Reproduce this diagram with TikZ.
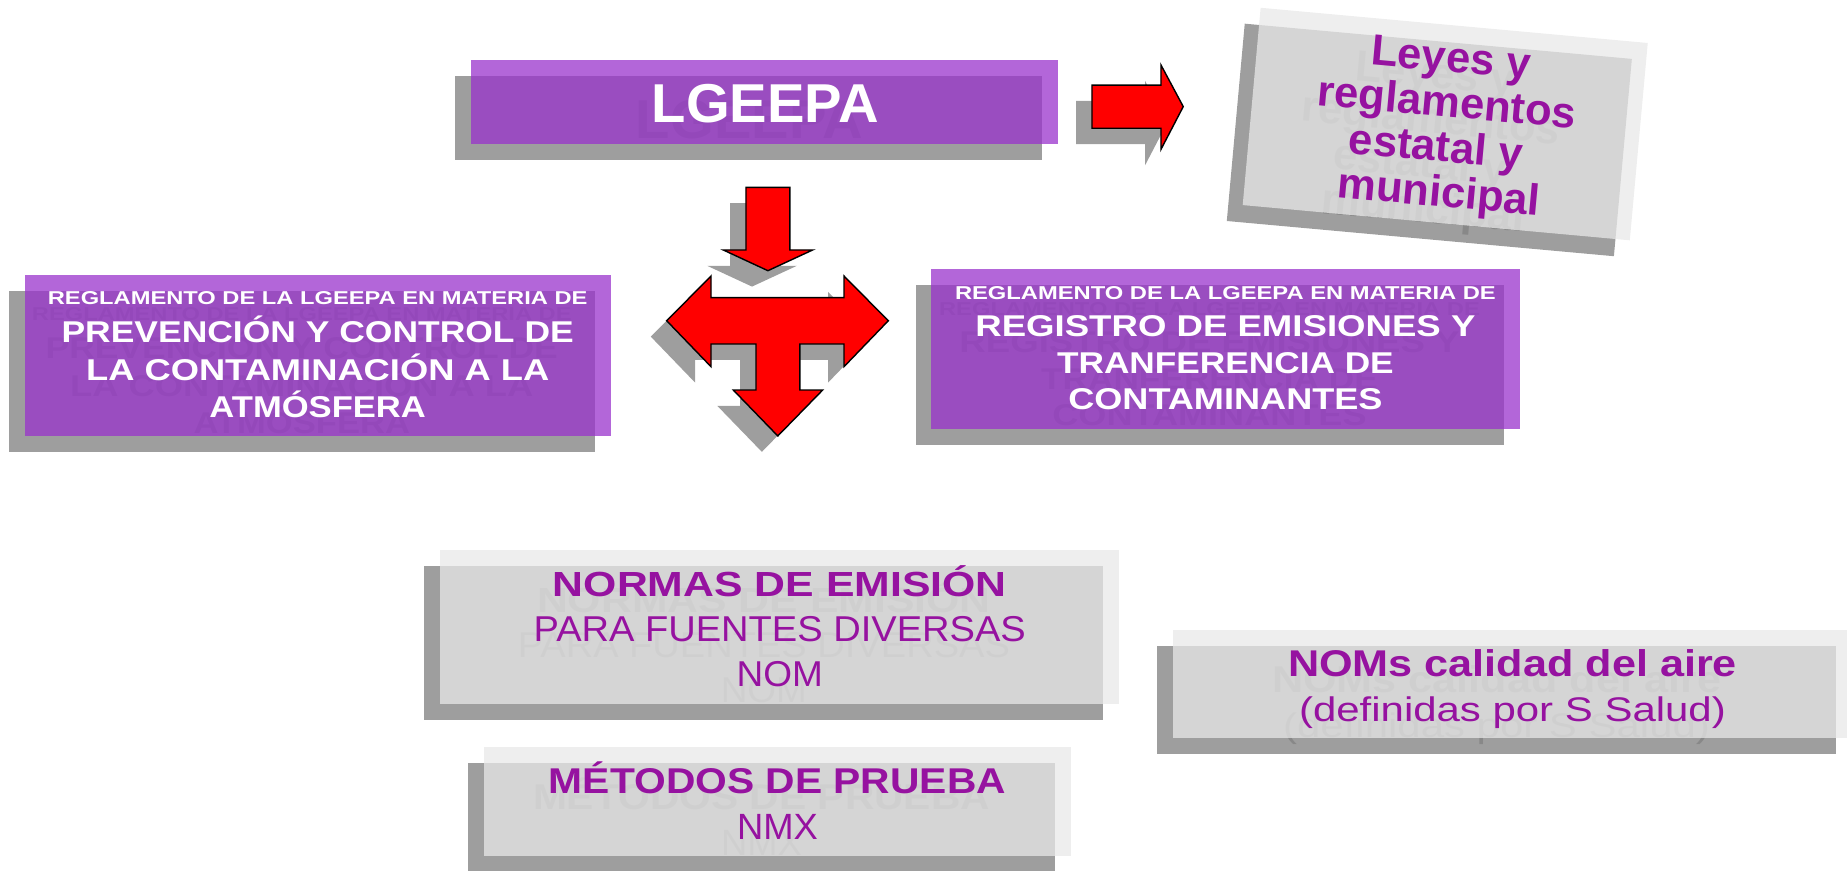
\documentclass[tikz,border=0pt]{standalone}
\usepackage{fontspec}
\setmainfont{Liberation Sans}
\usepackage{graphicx}
\definecolor{pur}{RGB}{153,51,204}
\definecolor{shd}{RGB}{158,158,158}
\definecolor{lgr}{RGB}{232,232,232}
\definecolor{ptx}{RGB}{150,18,160}
\definecolor{ghc}{RGB}{136,136,136}
\newcommand\fitw[2]{\resizebox{#1pt}{\height}{#2}}
\newcommand\fz[1]{\fontsize{#1}{#1}\selectfont}
\tikzset{
  boxbase/.style={rectangle, draw=none, inner sep=0pt, outer sep=0pt},
  shadowbox/.style={boxbase, fill=shd},
  purplebox/.style={boxbase, fill=pur, fill opacity=0.75},
  greybox/.style={boxbase, fill=lgr, fill opacity=0.75},
  tx/.style={inner sep=0pt, outer sep=0pt, anchor=base},
  whitetext/.style={text=white},
  purpletext/.style={text=ptx},
  shadowshape/.style={fill=shd, draw=none},
  redarrow/.style={fill=red, draw=black, line width=1.2pt, line join=miter},
}
\newcommand\arrowRight[1]{\path[#1] (927,72.2) -- (985.6,72.2) -- (985.6,55.2) -- (1004.5,90.5) -- (985.6,126.8) -- (985.6,108.9) -- (927,108.9) -- cycle;}
\newcommand\arrowDown[1]{\path[#1] (633.3,159) -- (670.6,159) -- (670.6,212.2) -- (689.9,212.2) -- (651.9,229.8) -- (614,212.2) -- (633.3,212.2) -- cycle;}
\newcommand\arrowTriple[1]{\path[#1] (566,272.3) -- (603.6,234.3) -- (603.6,252.7) -- (716.5,252.7) -- (716.5,234.3) -- (754.1,272.3) -- (716.5,311.3) -- (716.5,292) -- (679.1,292) -- (679.1,331.1) -- (698.4,331.1) -- (660.3,370.1) -- (622.5,331.1) -- (641.8,331.1) -- (641.8,292) -- (603.6,292) -- (603.6,311.3) -- cycle;}
\newcommand\alltexts{%
  \node[tx,whitetext] (lg-t) at (649.7,104.1) {\fitw{192.7}{\fz{46.5}\bfseries LGEEPA}};
  % left purple box
  \node[tx,whitetext] (pc-1) at (269.7,258.9) {\fitw{458.1}{\fz{15.8}\bfseries REGLAMENTO DE LA LGEEPA EN MATERIA DE}};
  \node[tx,whitetext] (pc-2) at (269.7,290.9) {\fitw{434.8}{\fz{25.5}\bfseries PREVENCIÓN Y CONTROL DE}};
  \node[tx,whitetext] (pc-3) at (269.7,323.0) {\fitw{393.2}{\fz{25.5}\bfseries LA CONTAMINACIÓN A LA}};
  \node[tx,whitetext] (pc-4) at (269.7,354.5) {\fitw{183.7}{\fz{25.5}\bfseries ATMÓSFERA}};
  % right purple box
  \node[tx,whitetext] (re-1) at (1040.3,254.1) {\fitw{459.1}{\fz{15.8}\bfseries REGLAMENTO DE LA LGEEPA EN MATERIA DE}};
  \node[tx,whitetext] (re-2) at (1040.3,285.8) {\fitw{424.5}{\fz{25.5}\bfseries REGISTRO DE EMISIONES Y}};
  \node[tx,whitetext] (re-3) at (1040.3,316.9) {\fitw{285.9}{\fz{25.5}\bfseries TRANFERENCIA DE}};
  \node[tx,whitetext] (re-4) at (1040.3,348.0) {\fitw{266.8}{\fz{25.5}\bfseries CONTAMINANTES}};
  % normas
  \node[tx,purpletext] (no-1) at (662,506.5) {\fitw{385.2}{\fz{29.6}\bfseries NORMAS DE EMISIÓN}};
  \node[tx,purpletext] (no-2) at (662,544.7) {\fitw{417.8}{\fz{30.5}PARA FUENTES DIVERSAS}};
  \node[tx,purpletext] (no-3) at (662,582.9) {\fitw{73.2}{\fz{30.5}NOM}};
  % metodos
  \node[tx,purpletext] (me-1) at (660,674.0) {\fitw{388}{\fz{30.4}\bfseries MÉTODOS DE PRUEBA}};
  \node[tx,purpletext] (me-2) at (660,712.5) {\fitw{68.6}{\fz{31}NMX}};
  % NOMs calidad
  \node[tx,purpletext] (ca-1) at (1284,574.4) {\fitw{381.1}{\fz{31.6}\bfseries NOMs calidad del aire}};
  \node[tx,purpletext] (ca-2) at (1284,612.6) {\fitw{362.3}{\fz{29}(definidas por S Salud)}};
  % leyes (rotated)
  \begin{scope}[shift={(1226.9,105.3)}, rotate=-5.2, every node/.append style={transform shape}]
    \node[tx,purpletext] (ly-1) at (0,-44.4) {\fz{37}\bfseries Leyes y};
    \node[tx,purpletext] (ly-2) at (0,-6.2) {\fz{37}\bfseries reglamentos};
    \node[tx,purpletext] (ly-3) at (-6,32) {\fz{37}\bfseries estatal y};
    \node[tx,purpletext] (ly-4) at (0,70.2) {\fz{37}\bfseries municipal};
  \end{scope}
}
\begin{document}
\begin{tikzpicture}[x=1pt,y=-1pt]
\useasboundingbox (0,0) rectangle (1568,739);
\clip (0,0) rectangle (1568,739);
% ---- shadows of boxes
\node[shadowbox, minimum width=498.3pt, minimum height=71.3pt] (lgeepa-s) at (635.5,100.05) {};
\node[shadowbox, minimum width=497.9pt, minimum height=136.5pt] (prev-s) at (256.25,315.15) {};
\node[shadowbox, minimum width=499.3pt, minimum height=136.1pt] (reg-s) at (1026.85,309.95) {};
\node[shadowbox, minimum width=330pt, minimum height=168.2pt, rotate=-5.2] (leyes-s) at (1213.4,118.8) {};
\node[shadowbox, minimum width=576.8pt, minimum height=130.7pt] (normas-s) at (648.3,545.75) {};
\node[shadowbox, minimum width=498.6pt, minimum height=92.5pt] (metodos-s) at (646.4,693.65) {};
\node[shadowbox, minimum width=576.1pt, minimum height=92pt] (noms-s) at (1270.45,594.3) {};
% ---- shadows of arrows
\arrowRight{shadowshape, shift={(-13.5,13.5)}}
\arrowDown{shadowshape, shift={(-13.5,13.5)}}
\arrowTriple{shadowshape, shift={(-13.5,13.5)}}
% ---- text shadows
\begin{scope}[shift={(-13.5,13.5)}, name prefix=g-, whitetext/.style={text=ghc}, purpletext/.style={text=ghc}]
\alltexts
\end{scope}
% ---- main boxes
\node[purplebox, minimum width=498.3pt, minimum height=71.3pt] (lgeepa) at (649,86.55) {};
\node[purplebox, minimum width=497.9pt, minimum height=136.5pt] (prev) at (269.75,301.65) {};
\node[purplebox, minimum width=499.3pt, minimum height=136.1pt] (reg) at (1040.35,296.45) {};
\node[greybox, minimum width=330pt, minimum height=168.2pt, rotate=-5.2] (leyes) at (1226.9,105.3) {};
\node[greybox, minimum width=576.8pt, minimum height=130.7pt] (normas) at (661.8,532.25) {};
\node[greybox, minimum width=498.6pt, minimum height=92.5pt] (metodos) at (659.9,680.15) {};
\node[greybox, minimum width=576.1pt, minimum height=92pt] (noms) at (1283.95,580.8) {};
% ---- red block arrows
\arrowRight{redarrow}
\arrowDown{redarrow}
\arrowTriple{redarrow}
% ---- texts
\alltexts
\end{tikzpicture}
\end{document}
